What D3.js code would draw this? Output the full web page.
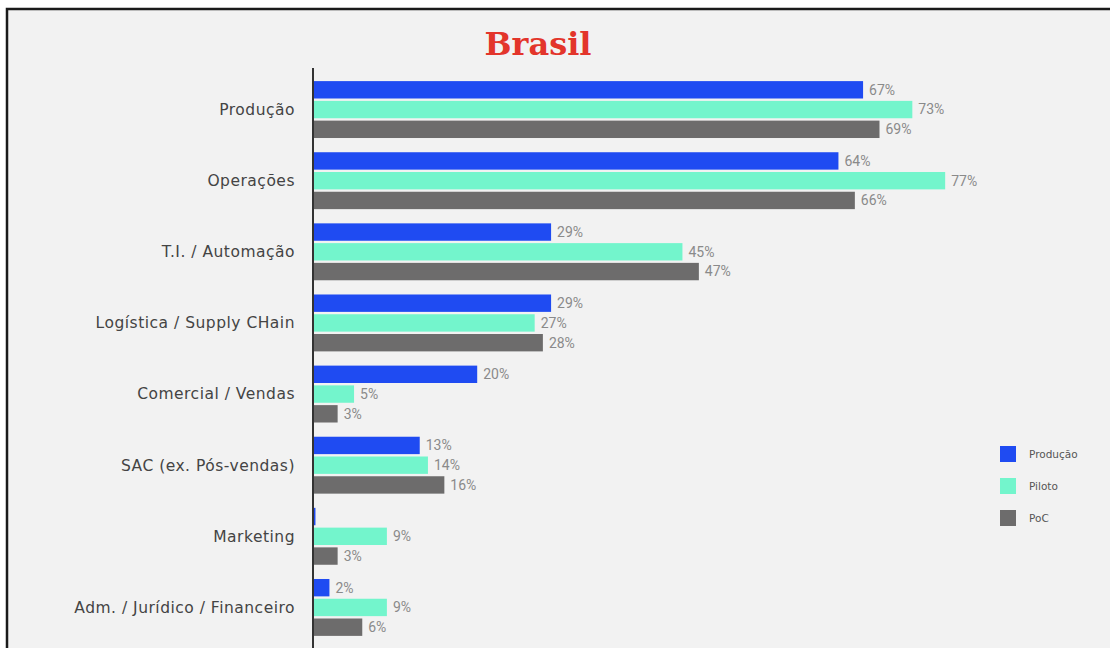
<!DOCTYPE html>
<html>
<head>
<meta charset="utf-8">
<script src="https://cdn.jsdelivr.net/npm/d3@7"></script>
<style>
  html, body { margin: 0; padding: 0; background: #ffffff; }
  svg { display: block; }
</style>
</head>
<body>
<svg id="chart" width="1110" height="648"></svg>
<script>
const categories = [
  'Produção', 'Operações', 'T.I. / Automação', 'Logística / Supply CHain',
  'Comercial / Vendas', 'SAC (ex. Pós-vendas)', 'Marketing', 'Adm. / Jurídico / Financeiro'
]
const series = ['Produção', 'Piloto', 'PoC']
const producao = [67, 64, 29, 29, 20, 13, 0.3, 2]
const piloto = [73, 77, 45, 27, 5, 14, 9, 9]
const poc = [69, 66, 47, 28, 3, 16, 3, 6]
const colors = ['#1f4bf2', '#73f5cc', '#6d6c6c']

const values = [producao, piloto, poc]
const rows = categories.map((c, i) => ({
  category: c,
  bars: series.map((s, j) => ({ series: s, value: values[j][i], color: colors[j] }))
}))

const svg = d3.select('#chart')
const width = 1110
const height = 648

// frame
svg.append('rect')
  .attr('x', 7).attr('y', 9)
  .attr('width', width + 20).attr('height', height + 20)
  .attr('fill', '#f2f2f2')
  .attr('stroke', '#1a1a1a')
  .attr('stroke-width', 2.5)

svg.append('text')
  .attr('x', 538).attr('y', 55)
  .attr('text-anchor', 'middle')
  .style('font-family', '"DejaVu Serif", serif')
  .style('font-weight', 'bold')
  .style('font-size', '32px')
  .style('fill', '#e3352b')
  .text('Brasil')

const x0 = 313
const xScale = d3.scaleLinear().domain([0, 100]).range([x0, x0 + 821])
const yScale = d3.scaleBand()
  .domain(categories)
  .range([74, 643])
  .paddingInner(0.2)
  .paddingOuter(0.1)
const ySub = d3.scaleBand()
  .domain(series)
  .range([0, yScale.bandwidth()])
  .paddingInner(0.12)

const group = svg.selectAll('g.group')
    .data(rows)
  .enter().append('g')
    .attr('class', 'group')
    .attr('transform', d => `translate(0, ${yScale(d.category)})`)

group.append('text')
  .attr('x', 295)
  .attr('y', yScale.bandwidth() / 2)
  .attr('dy', '0.35em')
  .attr('text-anchor', 'end')
  .style('font-family', '"DejaVu Sans", sans-serif')
  .style('font-size', '15.5px')
  .style('letter-spacing', '0.5px')
  .style('fill', '#444')
  .text(d => d.category)

const bar = group.selectAll('g.bar')
    .data(d => d.bars)
  .enter().append('g')
    .attr('class', 'bar')
    .attr('transform', d => `translate(0, ${ySub(d.series)})`)

bar.append('rect')
  .attr('x', xScale(0))
  .attr('width', d => xScale(d.value) - xScale(0))
  .attr('height', ySub.bandwidth())
  .style('fill', d => d.color)

bar.filter(d => d.value >= 1).append('text')
  .attr('x', d => xScale(d.value) + 6)
  .attr('y', ySub.bandwidth() / 2)
  .attr('dy', '0.35em')
  .style('font-family', 'Roboto, sans-serif')
  .style('font-size', '14px')
  .style('fill', '#8a8a8a')
  .text(d => `${d.value}%`)

// axis line
svg.append('line')
  .attr('x1', x0).attr('x2', x0)
  .attr('y1', 68).attr('y2', height)
  .attr('stroke', '#333')
  .attr('stroke-width', 2)

// legend
const legend = svg.selectAll('g.legend')
    .data(series)
  .enter().append('g')
    .attr('class', 'legend')
    .attr('transform', (d, i) => `translate(1000, ${446 + i * 32})`)

legend.append('rect')
  .attr('width', 16).attr('height', 16)
  .style('fill', (d, i) => colors[i])

legend.append('text')
  .attr('x', 29).attr('y', 8)
  .attr('dy', '0.35em')
  .style('font-family', '"DejaVu Sans", sans-serif')
  .style('font-size', '10.5px')
  .style('fill', '#555')
  .text(d => d)
</script>
</body>
</html>
